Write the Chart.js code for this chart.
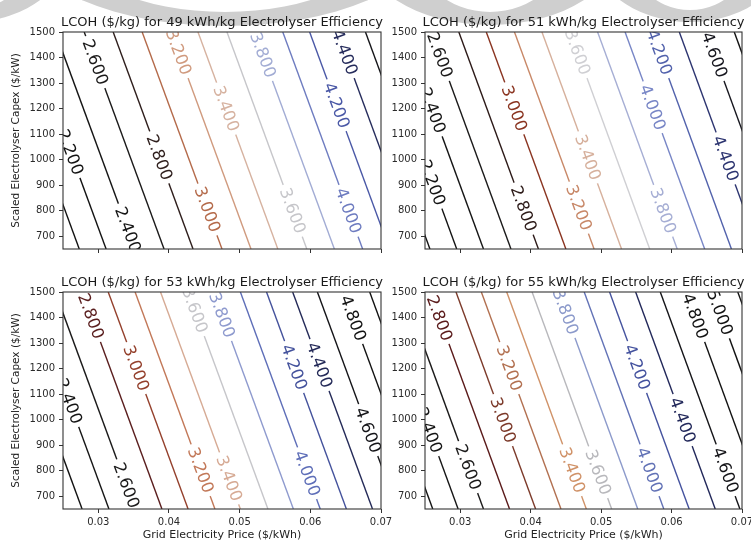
<!DOCTYPE html>
<html><head><meta charset="utf-8">
<script src="https://cdn.jsdelivr.net/npm/chart.js@4/dist/chart.umd.min.js"></script>
<style>
html,body{margin:0;padding:0;background:#fff;}
#wrap{position:relative;width:751px;height:542px;overflow:hidden;background:#fff;}
#wrap canvas{position:absolute;left:0;top:0;}
</style></head><body>
<div id="wrap">
<canvas id="bg" width="751" height="542"></canvas>
<canvas id="c0" width="751" height="542"></canvas>
<canvas id="c1" width="751" height="542"></canvas>
<canvas id="c2" width="751" height="542"></canvas>
<canvas id="c3" width="751" height="542"></canvas>
</div>
<script>
// ---------- data ----------
const capexMin = 650, capexMax = 1500;
const priceMin = 0.025, priceMax = 0.07;
const priceTicks = [0.03, 0.04, 0.05, 0.06, 0.07];
const capexTicks = [700, 800, 900, 1000, 1100, 1200, 1300, 1400, 1500];
const efficiencies = [49, 51, 53, 55];

// 49 kWh/kg : contour level, price where it meets capex 1500 and capex 650
const levels49 = [2.0, 2.2, 2.4, 2.6, 2.8, 3.0, 3.2, 3.4, 3.6, 3.8, 4.0, 4.2, 4.4, 4.6];
const priceTop49 = [0.0160, 0.0198, 0.0239, 0.0280, 0.0321, 0.0362, 0.0403, 0.0441, 0.0482, 0.0521, 0.0561, 0.0599, 0.0638, 0.0678];
const priceBottom49 = [0.0273, 0.0311, 0.0352, 0.0393, 0.0434, 0.0475, 0.0516, 0.0554, 0.0595, 0.0634, 0.0674, 0.0712, 0.0751, 0.0791];
const labelLevels49 = [2.2, 2.4, 2.6, 2.8, 3.0, 3.2, 3.4, 3.6, 3.8, 4.0, 4.2, 4.4];
const labelCapex49 = [1030, 726, 1382, 1009, 805, 1421, 1200, 800, 1410, 800, 1213, 1421];

// 51 kWh/kg
const levels51 = [2.0, 2.2, 2.4, 2.6, 2.8, 3.0, 3.2, 3.4, 3.6, 3.8, 4.0, 4.2, 4.4, 4.6, 4.8];
const priceTop51 = [0.0144, 0.0182, 0.0220, 0.0259, 0.0298, 0.0337, 0.0377, 0.0416, 0.0456, 0.0495, 0.0534, 0.0572, 0.0611, 0.0649, 0.0689];
const priceBottom51 = [0.0257, 0.0295, 0.0333, 0.0372, 0.0411, 0.0450, 0.0490, 0.0529, 0.0569, 0.0608, 0.0647, 0.0685, 0.0724, 0.0762, 0.0802];
const labelLevels51 = [2.2, 2.4, 2.6, 2.8, 3.0, 3.2, 3.4, 3.6, 3.8, 4.0, 4.2, 4.4, 4.6];
const labelCapex51 = [910, 1193, 1410, 808, 1201, 812, 1009, 1421, 800, 1205, 1421, 1005, 1410];

// 53 kWh/kg
const levels53 = [2.2, 2.4, 2.6, 2.8, 3.0, 3.2, 3.4, 3.6, 3.8, 4.0, 4.2, 4.4, 4.6, 4.8, 5.0];
const priceTop53 = [0.0164, 0.0202, 0.0239, 0.0277, 0.0314, 0.0352, 0.0388, 0.0427, 0.0463, 0.0501, 0.0538, 0.0575, 0.0610, 0.0647, 0.0684];
const priceBottom53 = [0.0277, 0.0315, 0.0352, 0.0390, 0.0427, 0.0465, 0.0501, 0.0540, 0.0576, 0.0614, 0.0651, 0.0688, 0.0723, 0.0760, 0.0797];
const labelLevels53 = [2.4, 2.6, 2.8, 3.0, 3.2, 3.4, 3.6, 3.8, 4.0, 4.2, 4.4, 4.6, 4.8];
const labelCapex53 = [1073, 743, 1406, 1202, 802, 770, 1429, 1410, 790, 1206, 1214, 959, 1398];

// 55 kWh/kg
const levels55 = [2.2, 2.4, 2.6, 2.8, 3.0, 3.2, 3.4, 3.6, 3.8, 4.0, 4.2, 4.4, 4.6, 4.8, 5.0, 5.2];
const priceTop55 = [0.0148, 0.0184, 0.0220, 0.0257, 0.0294, 0.0330, 0.0366, 0.0402, 0.0439, 0.0476, 0.0512, 0.0549, 0.0584, 0.0621, 0.0658, 0.0694];
const priceBottom55 = [0.0261, 0.0297, 0.0333, 0.0370, 0.0407, 0.0443, 0.0479, 0.0515, 0.0552, 0.0589, 0.0625, 0.0662, 0.0697, 0.0734, 0.0771, 0.0807];
const labelLevels55 = [2.4, 2.6, 2.8, 3.0, 3.2, 3.4, 3.6, 3.8, 4.0, 4.2, 4.4, 4.6, 4.8, 5.0];
const labelCapex55 = [959, 814, 1398, 998, 1202, 802, 794, 1422, 802, 1206, 998, 802, 1406, 1420];

const titleText = e => 'LCOH ($/kg) for ' + e + ' kWh/kg Electrolyser Efficiency';
const xTitle = 'Grid Electricity Price ($/kWh)';
const yTitle = 'Scaled Electrolyser Capex ($/kW)';

// ---------- styles ----------
const colors49 = ['#121212','#131313','#151515','#1b1a1a','#2e1e1c','#b46a4a','#d09a7e','#d6b2a0','#c6c6ca','#a2acd4','#6e7cc0','#4a58a6','#262c5c','#141418'];
const colors51 = ['#121212','#131313','#151515','#1b1a1a','#2c1a18','#8a3420','#c88868','#d6b09c','#cfcfd3','#a6aed4','#7886c6','#5262ac','#2c3470','#16161e','#121212'];
const colors53 = ['#131313','#151515','#1b1a1a','#5a1e1e','#94402c','#c27858','#d6aa94','#c6c6ca','#8e9ace','#5e6eb8','#44529c','#242a58','#141418','#121212','#121212'];
const colors55 = ['#131313','#151515','#1b1a1a','#5a1a1a','#7c3a2a','#b27050','#d09268','#b8b8bc','#8c9acb','#6272b6','#44529e','#22285a','#141418','#121212','#121212','#121212'];

const FONT = "'DejaVu Sans', 'Liberation Sans', sans-serif";
Chart.defaults.font.family = FONT;

const panels = [
  {eff: efficiencies[0], levels: levels49, top: priceTop49, bottom: priceBottom49, labelLevels: labelLevels49, labelCapex: labelCapex49, colors: colors49,
   area: {left: 63, right: 381, top: 32, bottom: 249}, xLabels: false, yTitle: true},
  {eff: efficiencies[1], levels: levels51, top: priceTop51, bottom: priceBottom51, labelLevels: labelLevels51, labelCapex: labelCapex51, colors: colors51,
   area: {left: 425, right: 742, top: 32, bottom: 249}, xLabels: false, yTitle: false},
  {eff: efficiencies[2], levels: levels53, top: priceTop53, bottom: priceBottom53, labelLevels: labelLevels53, labelCapex: labelCapex53, colors: colors53,
   area: {left: 63, right: 381, top: 292, bottom: 509}, xLabels: true, yTitle: true},
  {eff: efficiencies[3], levels: levels55, top: priceTop55, bottom: priceBottom55, labelLevels: labelLevels55, labelCapex: labelCapex55, colors: colors55,
   area: {left: 425, right: 742, top: 292, bottom: 509}, xLabels: true, yTitle: false}
];

// ---------- watermark rings (background decoration) ----------
(function(){
  const c = document.getElementById('bg').getContext('2d');
  c.fillStyle = '#cfcfcf';
  function ring(cx, cy, rxo, ryo, rxi, ryi){
    c.beginPath();
    c.ellipse(cx, cy, rxo, ryo, 0, 0, Math.PI*2);
    c.moveTo(cx + rxi, cy);
    c.ellipse(cx, cy, rxi, ryi, 0, 0, Math.PI*2);
    c.fill('evenodd');
  }
  ring(-30, -60, 103, 82, 66, 70);
  ring(225, -60, 200, 86, 155, 72);
  ring(490, -60, 133, 85, 78, 72);
  ring(690, -60, 103, 82, 66, 70);
})();

const W = 60, H = 30;

function decor(P){
  return {
    id: 'decor' + P.eff,
    afterDatasetsDraw(chart){
      const ctx = chart.ctx, a = chart.chartArea, xs = chart.scales.x, ys = chart.scales.y;
      ctx.save();
      ctx.beginPath();
      ctx.rect(a.left, a.top, a.right - a.left, a.bottom - a.top);
      ctx.clip();
      ctx.font = '16.5px ' + FONT;
      ctx.textAlign = 'center';
      ctx.textBaseline = 'middle';
      P.labelLevels.forEach((lv, k) => {
        const i = P.levels.findIndex(l => Math.abs(l - lv) < 1e-9);
        const xt = xs.getPixelForValue(P.top[i]), yt = ys.getPixelForValue(capexMax);
        const xb = xs.getPixelForValue(P.bottom[i]), yb = ys.getPixelForValue(capexMin);
        const py = ys.getPixelForValue(P.labelCapex[k]);
        const t = (py - yt) / (yb - yt);
        const px = xt + t * (xb - xt);
        const ang = Math.atan2(yb - yt, xb - xt);
        const txt = lv.toFixed(3);
        const w = ctx.measureText(txt).width;
        ctx.save();
        ctx.translate(px, py);
        ctx.rotate(ang);
        ctx.fillStyle = '#ffffff';
        ctx.fillRect(-w/2 - 4, -4, w + 8, 8);
        ctx.fillStyle = P.colors[i];
        ctx.fillText(txt, 0, 1);
        ctx.restore();
      });
      ctx.restore();
    },
    afterDraw(chart){
      const ctx = chart.ctx, a = chart.chartArea;
      ctx.save();
      ctx.strokeStyle = '#333333';
      ctx.lineWidth = 1.1;
      ctx.strokeRect(a.left, a.top, a.right - a.left, a.bottom - a.top);
      ctx.fillStyle = '#1a1a1a';
      ctx.font = '13px ' + FONT;
      ctx.textAlign = 'center';
      ctx.textBaseline = 'alphabetic';
      ctx.fillText(titleText(P.eff), (a.left + a.right)/2, a.top - 6);
      if (P.yTitle){
        ctx.save();
        ctx.translate(16, (a.top + a.bottom)/2);
        ctx.rotate(-Math.PI/2);
        ctx.font = '10.5px ' + FONT;
        ctx.textBaseline = 'middle';
        ctx.fillStyle = '#222';
        ctx.fillText(yTitle, 0, 0);
        ctx.restore();
      }
      if (P.xLabels){
        ctx.font = '11px ' + FONT;
        ctx.textBaseline = 'middle';
        ctx.fillStyle = '#222';
        ctx.fillText(xTitle, (a.left + a.right)/2, 535);
      }
      ctx.restore();
    }
  };
}

function makeChart(id, P){
  const datasets = P.levels.map((lv, i) => ({
    label: lv.toFixed(3),
    data: [{x: P.top[i], y: capexMax}, {x: P.bottom[i], y: capexMin}],
    borderColor: P.colors[i],
    borderWidth: 1.4,
    pointRadius: 0,
    fill: false,
    tension: 0
  }));
  return new Chart(document.getElementById(id), {
    type: 'line',
    data: {datasets},
    options: {
      responsive: false,
      animation: false,
      events: [],
      layout: {padding: {left: P.area.left - W, right: 751 - P.area.right, top: P.area.top, bottom: 542 - H - P.area.bottom}},
      plugins: {legend: {display: false}, tooltip: {enabled: false}, title: {display: false}},
      scales: {
        x: {
          type: 'linear', min: priceMin, max: priceMax,
          afterBuildTicks: s => { s.ticks = priceTicks.map(v => ({value: v})); },
          afterFit: s => { s.height = H; s.paddingLeft = 0; s.paddingRight = 0; },
          grid: {drawOnChartArea: false, drawTicks: true, tickLength: 4, tickColor: '#333', tickWidth: 1},
          border: {display: false},
          ticks: {display: P.xLabels, padding: 3, color: '#2a2a2a', font: {size: 10, family: FONT}, maxRotation: 0, autoSkip: false,
                  callback: v => Number(v).toFixed(2)}
        },
        y: {
          type: 'linear', min: capexMin, max: capexMax,
          afterBuildTicks: s => { s.ticks = capexTicks.map(v => ({value: v})); },
          afterFit: s => { s.width = W; s.paddingTop = 0; s.paddingBottom = 0; },
          grid: {drawOnChartArea: false, drawTicks: true, tickLength: 4, tickColor: '#333', tickWidth: 1},
          border: {display: false},
          ticks: {padding: 4, color: '#2a2a2a', font: {size: 10, family: FONT}, autoSkip: false,
                  callback: v => String(Math.round(v))}
        }
      }
    },
    plugins: [decor(P)]
  });
}

panels.forEach((P, i) => makeChart('c' + i, P));
</script>
</body></html>
